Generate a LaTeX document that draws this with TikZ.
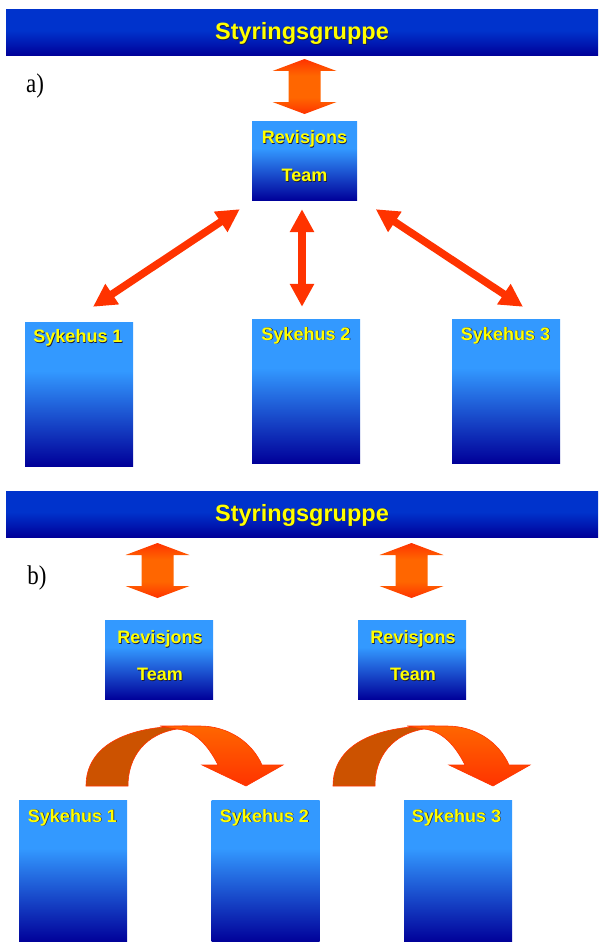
\documentclass[tikz,border=0pt]{standalone}
\usepackage{fontspec}
\setmainfont{Liberation Sans}
\newfontfamily\serifx{Liberation Serif}
\usetikzlibrary{arrows.meta}
\definecolor{lightblue}{HTML}{3399FF}
\definecolor{navy}{HTML}{000099}
\definecolor{barblue}{HTML}{0033CC}
\definecolor{redorange}{HTML}{FF3300}
\definecolor{orange1}{HTML}{FF6600}
\definecolor{darkorange1}{HTML}{CC5200}
\definecolor{txtyellow}{HTML}{FFFF00}
\definecolor{shadowc}{HTML}{1A1A40}
\pgfdeclareverticalshading{boxshade}{100bp}{color(0bp)=(navy); color(25bp)=(navy); color(58bp)=(lightblue); color(100bp)=(lightblue)}
\pgfdeclareverticalshading{barshade}{100bp}{color(0bp)=(navy); color(25bp)=(navy); color(52bp)=(barblue); color(100bp)=(barblue)}
\pgfdeclareverticalshading{barrow}{100bp}{color(0bp)=(redorange); color(25bp)=(redorange); color(40bp)=(orange1); color(60bp)=(orange1); color(75bp)=(redorange); color(100bp)=(redorange)}
\pgfdeclareverticalshading{frontshade}{100bp}{color(0bp)=(redorange); color(25bp)=(redorange); color(75bp)=(orange1); color(100bp)=(orange1)}
\newcommand\yl[1]{\leavevmode\rlap{\kern0.7pt\raisebox{-0.7pt}{\color{shadowc}#1}}\textcolor{txtyellow}{#1}}
\tikzset{
  bar/.style={rectangle, minimum width=592pt, minimum height=46pt, inner sep=0pt, shading=barshade},
  hbox/.style={rectangle, inner sep=0pt, shading=boxshade, minimum width=108pt},
  revbox/.style={rectangle, inner sep=0pt, shading=boxshade, minimum height=79pt},
  lbl/.style={font=\bfseries\fontsize{18}{20}\selectfont, inner sep=0pt, anchor=base},
  barlbl/.style={font=\bfseries\fontsize{23.5}{26}\selectfont, inner sep=0pt, anchor=base},
  tag/.style={font=\serifx\fontsize{27}{29}\selectfont, inner sep=0pt},
  thinarrow/.style={draw=redorange, line width=7.5pt,
    {Triangle[length=23pt,width=23pt]}-{Triangle[length=23pt,width=23pt]}},
  blockarrow/.pic={
    \path[shading=barrow] (0,0) -- (32,12) -- (16,12) -- (16,43) -- (32,43) -- (0,55)
      -- (-32,43) -- (-16,43) -- (-16,12) -- (-32,12) -- cycle;},
  curvearrow/.pic={
    \path[fill=darkorange1, draw=redorange, line width=0.6pt]
      (0,0) .. controls (0,-40) and (40,-60) .. (100,-60) -- (91,-57)
      .. controls (60,-52) and (42,-30) .. (42,0) -- cycle;
    \path[shading=frontshade, draw=redorange, line width=0.6pt]
      (74,-60) -- (114,-60) .. controls (142,-60) and (166,-44) .. (176,-21)
      -- (197,-21) -- (160,0) -- (116,-21) -- (132,-21)
      .. controls (122,-41) and (109,-55) .. (91,-57)
      .. controls (84,-58) and (79,-59) .. (74,-60) -- cycle;}
}
\begin{document}
\begin{tikzpicture}[x=1pt,y=-1pt]
\useasboundingbox (0,0) rectangle (600,942);
% ---------- a ----------
\node[bar] (bara) at (302,32.5) {};
\node[barlbl] (barat) at (302,39.5) {\yl{Styringsgruppe}};
\node[tag] (taga) at (35,86) {\scalebox{0.85}[1]{a)}};
\pic (dba) at (304.5,59) {blockarrow};
\node[revbox, minimum width=105pt] (reva) at (304.5,161) {};
\node[lbl] (reva1) at (304.5,143.5) {\yl{Revisjons}};
\node[lbl] (reva2) at (304.5,181.5) {\yl{Team}};
\node[hbox, minimum height=144pt] (sa1) at (79,394) {};
\node[lbl] (sa1t) at (78,342.5) {\yl{Sykehus 1}};
\node[hbox, minimum height=144pt] (sa2) at (306,391) {};
\node[lbl] (sa2t) at (306,340) {\yl{Sykehus 2}};
\node[hbox, minimum height=144pt] (sa3) at (506,391) {};
\node[lbl] (sa3t) at (505.5,340) {\yl{Sykehus 3}};
\draw[thinarrow] ([shift={(-12,8.5)}]reva.south west) -- ([shift={(14,-15)}]sa1.north);
\draw[thinarrow] ([shift={(-2.5,8.5)}]reva.south) -- ([shift={(-4,-12)}]sa2.north);
\draw[thinarrow] ([shift={(18.5,8.5)}]reva.south east) -- ([shift={(17,-12)}]sa3.north);
% ---------- b ----------
\node[bar] (barb) at (302,514) {};
\node[barlbl] (barbt) at (302,521) {\yl{Styringsgruppe}};
\node[tag] (tagb) at (37,578) {\scalebox{0.85}[1]{b)}};
\pic (dbb1) at (157.5,543) {blockarrow};
\pic (dbb2) at (411.5,543) {blockarrow};
\node[revbox, minimum width=108pt] (revb1) at (159,660) {};
\node[lbl] (revb1a) at (160,643.5) {\yl{Revisjons}};
\node[lbl] (revb1b) at (160,680.5) {\yl{Team}};
\node[revbox, minimum width=108pt] (revb2) at (412,660) {};
\node[lbl] (revb2a) at (413,643.5) {\yl{Revisjons}};
\node[lbl] (revb2b) at (413,680.5) {\yl{Team}};
\pic (cb1) at (86,786) {curvearrow};
\pic (cb2) at (333,786) {curvearrow};
\node[hbox, minimum height=142pt] (sb1) at (73,871) {};
\node[lbl] (sb1t) at (72.5,822) {\yl{Sykehus 1}};
\node[hbox, minimum height=142pt] (sb2) at (265.5,871) {};
\node[lbl] (sb2t) at (264.5,822) {\yl{Sykehus 2}};
\node[hbox, minimum height=142pt] (sb3) at (458,871) {};
\node[lbl] (sb3t) at (456.5,822) {\yl{Sykehus 3}};
\end{tikzpicture}
\end{document}
